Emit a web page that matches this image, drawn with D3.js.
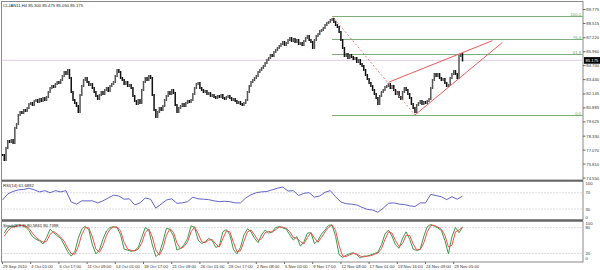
<!DOCTYPE html>
<html>
<head>
<meta charset="utf-8">
<script src="https://cdn.jsdelivr.net/npm/d3@7"></script>
<style>
  body { margin: 0; background: #fff; }
  svg { display: block; font-family: "Liberation Sans", Arial, sans-serif; }
</style>
</head>
<body>
<div id="vis"></div>
<script>
// CLJAN11 H4 closes, one per bar
const closes = [
  76.63, 76.18, 77.26, 77.90, 77.81, 77.99, 77.72,
  79.07, 79.43,
  80.24, 80.52, 80.43, 80.70, 80.61, 80.88,
  81.24, 81.33, 81.15,
  81.51, 81.60, 81.42, 81.69, 81.51, 81.78, 81.60, 81.87,
  82.32, 82.68, 82.86, 82.77, 83.05, 83.23, 83.14, 83.41,
  83.77, 84.13, 83.95, 84.31,
  83.59, 82.32, 81.60, 81.33, 81.06, 80.52,
  82.05, 82.86, 83.41, 83.59, 83.23, 82.96, 83.05,
  82.68, 82.32, 81.96, 81.69,
  82.05, 82.32, 82.14, 82.50, 82.68, 82.41, 82.86, 83.05, 83.23,
  83.77, 84.31, 84.13, 83.59,
  83.41, 83.05, 83.23, 82.86, 82.96, 82.68,
  81.96, 81.51, 81.24, 81.60, 81.33,
  82.50, 83.23, 83.59, 83.41, 83.77, 83.59,
  82.05, 80.70, 80.06, 80.52,
  80.88, 80.70, 81.06,
  81.60, 81.96, 82.32, 82.14, 82.50, 82.23,
  81.15, 80.52,
  80.88, 81.06, 81.24, 81.06, 81.33, 81.51, 81.42, 81.60,
  82.14, 82.68, 83.05, 83.14,
  82.68, 82.50, 82.32, 82.41, 82.14, 82.23, 81.96, 82.05, 81.87,
  81.78, 81.96, 81.87, 82.05, 81.78, 81.69, 81.87, 81.96, 81.78, 81.60, 81.69,
  81.51, 81.33, 81.42, 81.24, 81.15, 81.33, 81.60,
  82.32, 82.86, 83.23, 83.41,
  83.59, 83.77, 84.13, 84.31, 84.49, 84.67, 84.94,
  85.21, 85.39, 85.67, 85.57, 85.94, 86.12, 86.30, 86.48, 86.66,
  86.84, 86.57, 86.75, 87.02,
  87.20, 86.93, 87.11, 86.84, 87.02,
  86.66, 86.75, 86.57, 86.93,
  87.20, 87.38, 87.02, 86.84, 86.30, 87.02,
  87.38, 87.56, 87.83, 87.92, 88.10,
  88.38, 88.56, 88.65, 88.83, 88.92,
  88.65, 88.38, 88.19,
  87.74, 87.02, 86.30,
  85.57, 85.76, 85.39, 85.67, 85.48, 85.30,
  85.39, 85.03, 85.21, 84.85, 84.67,
  84.31, 83.86, 83.50,
  83.14, 82.86, 82.50,
  82.14, 81.78, 81.24,
  81.96, 82.32, 82.50, 82.77,
  82.86, 83.05, 82.68, 82.86,
  82.50, 82.14, 82.32, 81.87, 81.69,
  82.32, 82.68, 82.50, 82.14,
  81.78, 81.24, 80.88, 80.52,
  81.15, 81.33, 81.51, 81.24, 81.42, 81.33, 81.51, 81.69,
  82.68, 83.41, 83.95,
  83.77, 83.95, 83.59, 83.41, 83.50,
  83.14, 82.86, 82.96,
  83.59, 83.95, 84.22,
  83.95, 83.59,
  85.57, 85.76, 85.175
];

// RSI(14), one value every 3 bars, last one on the last bar
const rsiValues = [
  52, 67, 73, 77, 78, 81, 77, 72, 75, 70, 75, 72, 75, 47, 42, 50, 50, 50, 45, 50,
  57, 64, 62, 54, 55, 40, 45, 57, 54, 32, 42, 52, 55, 44, 45, 48, 59, 55, 54, 53,
  50, 48, 49, 48, 45, 45, 57, 65, 70, 72, 73, 77, 81, 84, 74, 75, 63, 68.5, 70, 59,
  62, 71, 75, 60, 47, 43, 42, 40, 34, 29, 27.5, 22, 32, 44, 45, 42, 41, 38, 36, 45,
  45, 66, 63, 60, 53, 60, 54, 61.6892
];

// Stochastic(8,3,3), one value every 2 bars, last one on the last bar
const stochMain = [
  67, 80, 83, 82, 86, 85, 82, 73, 59, 53, 49, 42, 57, 76, 68, 61, 55, 40, 24, 14,
  24, 55, 77, 83, 74, 40, 19, 28, 53, 72, 80, 82, 80, 63, 30, 28, 25, 27, 34, 57,
  80, 74, 40, 13, 20, 47, 78, 76, 60, 28, 32, 40, 55, 84, 80, 51, 43, 47, 55, 50,
  34, 37, 70, 75, 63, 30, 19, 34, 63, 77, 70, 55, 45, 63, 74, 67, 70, 80, 82, 79,
  76, 63, 51, 59, 37, 47, 67, 68, 43, 50, 65, 74, 85, 86, 59, 17, 11, 16, 20, 22,
  17, 10, 14, 14, 17, 20, 23, 40, 65, 74, 60, 40, 32, 55, 70, 53, 30, 27, 30, 59,
  82, 87, 83, 79, 73, 50, 19, 59, 80, 68, 80.5861
];
const stochSignal = [
  60, 72, 80, 82, 84, 85, 84, 78, 67, 57, 51, 46, 48, 64, 71, 65, 58, 48, 32, 20,
  18, 36, 64, 80, 79, 58, 30, 23, 38, 62, 76, 81, 81, 72, 46, 30, 27, 26, 30, 44,
  68, 77, 58, 28, 16, 32, 62, 77, 69, 44, 31, 36, 47, 70, 82, 66, 47, 45, 51, 52,
  42, 35, 54, 72, 70, 46, 24, 26, 48, 70, 74, 63, 50, 54, 68, 71, 69, 75, 81, 81,
  78, 70, 57, 55, 48, 42, 57, 68, 56, 46, 57, 70, 80, 86, 73, 38, 14, 13, 17, 20,
  19, 14, 12, 14, 15, 18, 21, 31, 52, 70, 67, 50, 36, 43, 62, 62, 42, 28, 29, 44,
  70, 85, 85, 81, 76, 62, 35, 39, 70, 74, 80.7398
];

const priceTicks = ["89.775", "88.515", "87.220", "85.960", "84.700", "83.440", "82.145",
  "80.885", "79.625", "78.330", "77.070", "75.810", "74.550"];
const dateLabels = ["29 Sep 2010", "4 Oct 01:00", "6 Oct 17:00", "11 Oct 09:00", "14 Oct 01:00",
  "18 Oct 17:00", "21 Oct 09:00", "26 Oct 01:00", "28 Oct 17:00", "2 Nov 08:00", "5 Nov 00:00",
  "9 Nov 17:00", "12 Nov 08:00", "17 Nov 01:00", "19 Nov 16:00", "24 Nov 09:00", "29 Nov 05:00"];
const barsPerLabel = 16;

const fibLevels = [100.0, 76.4, 61.8, 0.0];
const fibHigh = 89.19, fibLow = 80.24, fibStartBar = 187;
const trendDashed = [[187, 89.19], [234, 80.24]];
const wedgeUpper = [[219, 83.20], [278, 86.96]];
const wedgeLower = [[234, 80.24], [283.5, 86.78]];
const lastPrice = 85.175;
const title = "CLJAN11,H4 85.300 85.475 85.050 85.175";
const rsiTitle = "RSI(14) 61.6892";
const stochTitle = "Stoch(8,3,3) 80.5861 80.7398";

const W = 600, H = 270;
const axisX = 583;
const FS = 4.2;
const mainP = { top: 1.5, bottom: 180 };
const rsiP = { top: 181.5, bottom: 219.5 };
const stP = { top: 221.5, bottom: 262 };

const svg = d3.select("#vis").append("svg").attr("width", W).attr("height", H);

const x = d3.scaleLinear().domain([0, 1]).range([2.5, 2.5 + 1.7625]);
const yP = d3.scaleLinear().domain([74.55, 89.775]).range([178, 9.5]);
const yR = d3.scaleLinear().domain([30, 70]).range([209, 192.7]);
const yS = d3.scaleLinear().domain([20, 80]).range([253.5, 227.5]);

function label(xx, yy, txt, opts) {
  opts = opts || {};
  return svg.append("text").attr("x", xx).attr("y", yy)
    .attr("font-size", FS).attr("fill", opts.fill || "#333")
    .attr("text-anchor", opts.anchor || "start").text(txt);
}

// clip paths
const defs = svg.append("defs");
[["cMain", mainP], ["cRsi", rsiP], ["cSt", stP]].forEach(([id, p]) => {
  defs.append("clipPath").attr("id", id).append("rect")
    .attr("x", 1.5).attr("y", p.top).attr("width", axisX - 1.5).attr("height", p.bottom - p.top);
});

// panel frames
[mainP, rsiP, stP].forEach(p => {
  svg.append("rect").attr("x", 1.5).attr("y", p.top)
    .attr("width", axisX - 1.5).attr("height", p.bottom - p.top)
    .attr("fill", "none").attr("stroke", "#8a8a8a").attr("stroke-width", 1);
});
svg.append("line").attr("x1", 1.5).attr("x2", axisX).attr("y1", 180.5).attr("y2", 180.5)
  .attr("stroke", "#666").attr("stroke-width", 1.2);
svg.append("line").attr("x1", 1.5).attr("x2", axisX).attr("y1", 220.5).attr("y2", 220.5)
  .attr("stroke", "#666").attr("stroke-width", 1.2);

/******  MAIN PANEL  *******/
const gMain = svg.append("g").attr("clip-path", "url(#cMain)");

// current price line
gMain.append("line").attr("x1", 1.5).attr("x2", axisX)
  .attr("y1", yP(lastPrice)).attr("y2", yP(lastPrice))
  .attr("stroke", "#e6d6e6").attr("stroke-width", 1.2);

// fibonacci levels
fibLevels.forEach(lvl => {
  const yy = Math.round(yP(fibLow + (fibHigh - fibLow) * lvl / 100)) + 0.5;
  gMain.append("line").attr("x1", x(fibStartBar)).attr("x2", axisX)
    .attr("y1", yy).attr("y2", yy).attr("stroke", "#7fae7f").attr("stroke-width", 1);
  gMain.append("text").attr("x", axisX - 2).attr("y", yy - 1)
    .attr("text-anchor", "end").attr("font-size", FS).attr("fill", "#6a9e6a")
    .text(lvl.toFixed(1));
});

// candles: open at previous close
gMain.selectAll("line.bar").data(closes).enter().append("line")
  .attr("class", "bar")
  .attr("x1", (d, i) => x(i)).attr("x2", (d, i) => x(i))
  .attr("y1", (d, i) => {
    const o = i > 0 ? closes[i - 1] : d;
    return Math.min(yP(o), yP(d)) - 1;
  })
  .attr("y2", (d, i) => {
    const o = i > 0 ? closes[i - 1] : d;
    return Math.max(yP(o), yP(d)) + 1;
  })
  .attr("stroke", (d, i) => (i > 0 && d > closes[i - 1]) ? "#555" : "#111")
  .attr("stroke-width", 1.5);

// trend lines
const seg = (pts, color, dash) => gMain.append("line")
  .attr("x1", x(pts[0][0])).attr("y1", yP(pts[0][1]))
  .attr("x2", x(pts[1][0])).attr("y2", yP(pts[1][1]))
  .attr("stroke", color).attr("stroke-width", 1)
  .attr("stroke-dasharray", dash || null);
seg(trendDashed, "#f08080", "2,2");
seg(wedgeUpper, "#f05a5a");
seg(wedgeLower, "#f05a5a");

label(3, 6.5, title, { fill: "#222" });

// price axis
priceTicks.forEach(t => {
  const yy = yP(+t);
  svg.append("line").attr("x1", axisX).attr("x2", axisX + 2.5).attr("y1", yy).attr("y2", yy).attr("stroke", "#666");
  label(586.3, yy + 1.5, t);
});
svg.append("rect").attr("x", axisX + 1).attr("y", yP(lastPrice) - 3.3).attr("width", 16).attr("height", 6.6).attr("fill", "#000");
label(585.5, yP(lastPrice) + 1.5, lastPrice.toFixed(3), { fill: "#fff" });

/******  RSI PANEL  *******/
const gR = svg.append("g").attr("clip-path", "url(#cRsi)");
[70, 30].forEach(l => gR.append("line").attr("x1", 1.5).attr("x2", axisX)
  .attr("y1", yR(l)).attr("y2", yR(l)).attr("stroke", "#bbb").attr("stroke-dasharray", "1,2"));
const rsiBar = k => 261 - (rsiValues.length - 1 - k) * 3;
gR.append("path").datum(rsiValues)
  .attr("d", d3.line().x((d, k) => x(rsiBar(k))).y(d => yR(d)))
  .attr("fill", "none").attr("stroke", "#6464c8").attr("stroke-width", 1);
label(3, 186.5, rsiTitle, { fill: "#222" });
[[100, 183.5], [70, yR(70)], [30, yR(30)], [0, 217.5]].forEach(([v, yy]) => {
  label(axisX + 2.5, yy + 1.5, v);
});

/******  STOCHASTIC PANEL  *******/
const gS = svg.append("g").attr("clip-path", "url(#cSt)");
[80, 20].forEach(l => gS.append("line").attr("x1", 1.5).attr("x2", axisX)
  .attr("y1", yS(l)).attr("y2", yS(l)).attr("stroke", "#bbb").attr("stroke-dasharray", "1,2"));
const stBar = k => 261 - (stochMain.length - 1 - k) * 2;
gS.append("path").datum(stochMain)
  .attr("d", d3.line().x((d, k) => x(stBar(k))).y(d => yS(d)))
  .attr("fill", "none").attr("stroke", "#3c9a4a").attr("stroke-width", 1);
gS.append("path").datum(stochSignal)
  .attr("d", d3.line().x((d, k) => x(stBar(k))).y(d => yS(d)))
  .attr("fill", "none").attr("stroke", "#ee5050").attr("stroke-width", 1);
label(3, 226.5, stochTitle, { fill: "#222" });
[[100, 223.5], [80, yS(80)], [20, yS(20)], [0, 258.5]].forEach(([v, yy]) => {
  label(axisX + 2.5, yy + 1.5, v);
});

/******  DATE AXIS  *******/
dateLabels.forEach((t, k) => {
  const xx = x(k * barsPerLabel);
  svg.append("line").attr("x1", xx).attr("x2", xx).attr("y1", 262).attr("y2", 264).attr("stroke", "#666");
  label(xx + 0.5, 267.5, t);
});
</script>
</body>
</html>
